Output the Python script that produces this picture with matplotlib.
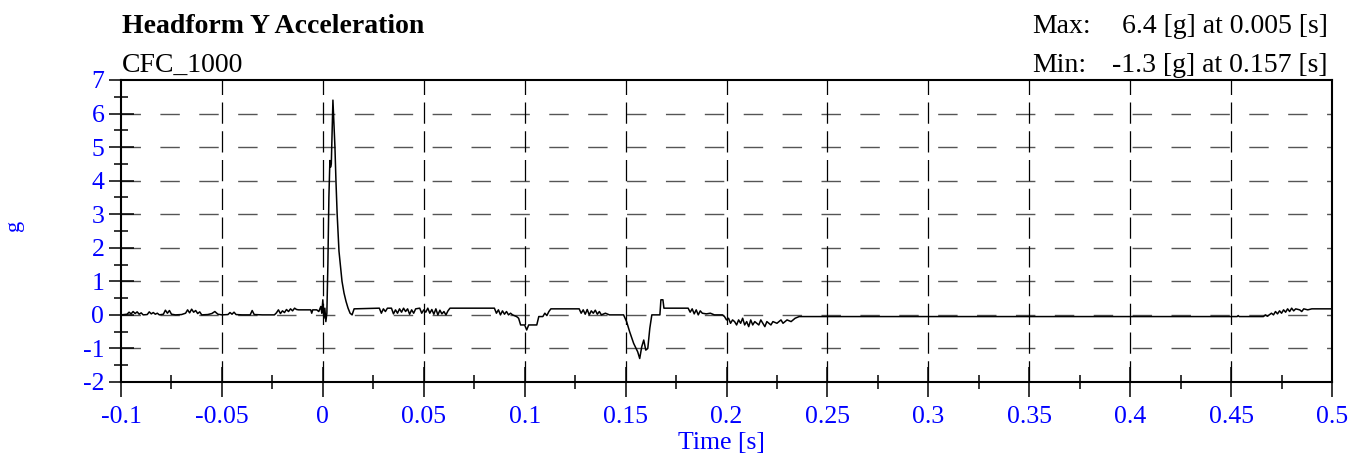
import matplotlib
matplotlib.use("Agg")
import matplotlib.pyplot as plt
from matplotlib.ticker import MultipleLocator, FixedLocator

plt.rcParams["axes.unicode_minus"] = False

# signal (time in s, acceleration in g)
time_s = [
    -0.100, -0.097, -0.096, -0.095, -0.094, -0.093, -0.092, -0.091, -0.090, -0.089,
    -0.087, -0.086, -0.085, -0.084, -0.083, -0.082, -0.081, -0.079, -0.078, -0.077,
    -0.076, -0.075, -0.073, -0.070, -0.068, -0.067, -0.066, -0.065, -0.064, -0.063,
    -0.062, -0.061, -0.060, -0.057, -0.055, -0.0535, -0.052, -0.050, -0.047, -0.046,
    -0.045, -0.044, -0.043, -0.040, -0.036, -0.035, -0.034, -0.030, -0.024, -0.023,
    -0.022, -0.021, -0.020, -0.019, -0.018, -0.017, -0.016, -0.015, -0.014, -0.013,
    -0.012, -0.006, -0.0055, -0.005, -0.003, -0.002, -0.001, -0.0005, 0.000, 0.0005,
    0.001, 0.0015, 0.002, 0.0025, 0.003, 0.0035, 0.0038, 0.0042, 0.0050, 0.0060,
    0.0065, 0.0071, 0.0080, 0.0095, 0.0105, 0.0115, 0.0125, 0.0135, 0.0145, 0.0155,
    0.028, 0.029, 0.030, 0.031, 0.032, 0.034, 0.035, 0.036, 0.037, 0.038,
    0.039, 0.040, 0.041, 0.042, 0.043, 0.044, 0.045, 0.046, 0.048, 0.049,
    0.050, 0.051, 0.052, 0.053, 0.054, 0.055, 0.056, 0.057, 0.058, 0.059,
    0.060, 0.061, 0.062, 0.063, 0.068, 0.085, 0.086, 0.087, 0.088, 0.089,
    0.090, 0.091, 0.092, 0.093, 0.094, 0.096, 0.097, 0.098, 0.100, 0.101,
    0.102, 0.106, 0.107, 0.109, 0.110, 0.111, 0.112, 0.113, 0.127, 0.128,
    0.129, 0.130, 0.131, 0.132, 0.133, 0.134, 0.135, 0.136, 0.137, 0.138,
    0.140, 0.142, 0.146, 0.149, 0.1505, 0.152, 0.154, 0.156, 0.157, 0.158,
    0.159, 0.160, 0.161, 0.162, 0.163, 0.167, 0.1675, 0.1685, 0.169, 0.181,
    0.182, 0.183, 0.184, 0.185, 0.186, 0.187, 0.188, 0.190, 0.192, 0.194,
    0.198, 0.199, 0.200, 0.201, 0.202, 0.203, 0.204, 0.205, 0.206, 0.207,
    0.208, 0.209, 0.210, 0.211, 0.212, 0.213, 0.214, 0.216, 0.217, 0.218,
    0.219, 0.220, 0.222, 0.223, 0.225, 0.227, 0.228, 0.230, 0.232, 0.234,
    0.236, 0.453, 0.4535, 0.454, 0.466, 0.467, 0.468, 0.470, 0.471, 0.472,
    0.473, 0.474, 0.475, 0.476, 0.477, 0.478, 0.479, 0.480, 0.481, 0.482,
    0.484, 0.485, 0.486, 0.488, 0.490, 0.500,
]
accel_g = [
    0.00, 0.02, 0.08, 0.03, 0.10, 0.04, 0.09, 0.02, 0.06, 0.00,
    0.01, 0.09, 0.03, 0.07, 0.02, 0.05, 0.00, 0.02, 0.14, 0.05,
    0.13, 0.02, 0.00, 0.01, 0.05, 0.15, 0.06, 0.17, 0.08, 0.13,
    0.04, 0.09, 0.00, 0.01, 0.04, 0.10, 0.02, 0.00, 0.01, 0.07,
    0.02, 0.08, 0.01, 0.00, 0.00, 0.13, 0.01, 0.00, 0.00, 0.06,
    0.15, 0.04, 0.12, 0.07, 0.16, 0.10, 0.18, 0.12, 0.20, 0.16,
    0.15, 0.15, 0.05, 0.15, 0.15, 0.10, 0.25, 0.05, 0.45, -0.10,
    0.20, -0.20, 0.05, 1.50, 3.50, 4.60, 4.40, 4.50, 6.40, 5.00,
    4.00, 3.00, 1.90, 1.00, 0.65, 0.40, 0.20, 0.05, 0.00, 0.18,
    0.20, 0.05, 0.18, 0.10, 0.20, 0.20, 0.03, 0.15, 0.05, 0.18,
    0.08, 0.20, 0.10, 0.18, 0.02, 0.15, 0.05, 0.18, 0.20, 0.05,
    0.15, 0.08, 0.20, 0.05, 0.16, 0.02, 0.18, 0.00, 0.14, 0.03,
    0.10, 0.00, 0.12, 0.20, 0.20, 0.20, 0.05, 0.15, 0.00, 0.12,
    0.02, 0.10, 0.00, 0.05, 0.00, -0.05, -0.10, -0.30, -0.30, -0.45,
    -0.30, -0.30, -0.05, -0.05, 0.05, -0.02, 0.10, 0.18, 0.18, 0.05,
    0.15, 0.02, 0.16, 0.00, 0.12, 0.05, 0.14, 0.02, 0.10, 0.00,
    0.05, 0.00, 0.00, 0.00, -0.20, -0.50, -0.85, -1.10, -1.30, -0.95,
    -0.75, -1.05, -1.00, -0.40, 0.00, 0.00, 0.45, 0.45, 0.20, 0.20,
    0.08, 0.18, 0.03, 0.15, 0.00, 0.12, 0.05, 0.03, 0.05, 0.00,
    0.00, -0.05, -0.15, -0.10, -0.25, -0.15, -0.20, -0.30, -0.15, -0.25,
    -0.10, -0.30, -0.20, -0.35, -0.15, -0.30, -0.20, -0.30, -0.15, -0.25,
    -0.35, -0.20, -0.30, -0.20, -0.25, -0.15, -0.25, -0.15, -0.20, -0.10,
    -0.05, -0.05, -0.02, -0.05, -0.05, 0.00, -0.04, 0.05, 0.00, 0.10,
    0.03, 0.12, 0.05, 0.15, 0.08, 0.18, 0.10, 0.20, 0.12, 0.18,
    0.15, 0.10, 0.18, 0.15, 0.18, 0.18,
]

x_ticks = [-0.1, -0.05, 0, 0.05, 0.1, 0.15, 0.2, 0.25, 0.3, 0.35, 0.4, 0.45, 0.5]
x_labels = ["-0.1", "-0.05", "0", "0.05", "0.1", "0.15", "0.2", "0.25",
            "0.3", "0.35", "0.4", "0.45", "0.5"]
y_ticks = [-2, -1, 0, 1, 2, 3, 4, 5, 6, 7]

serif = "Liberation Serif"
blue = "#0000ff"
fs_tick = 18.5
fs_text = 20

fig = plt.figure(figsize=(13.61, 4.54), dpi=100)
ax = fig.add_axes([0.0889, 0.1586, 0.8898, 0.6652])

# dashed grid
for yv in y_ticks[1:-1]:
    ax.axhline(yv, color="#555555", lw=1.0, ls=(0, (14, 14)), zorder=1)
for xv in x_ticks[1:-1]:
    ax.axvline(xv, color="black", lw=0.9, ls=(0, (17, 6)), zorder=1)

ax.plot(time_s, accel_g, color="black", lw=1.1, zorder=3)

ax.set_xlim(-0.1, 0.5)
ax.set_ylim(-2, 7)
ax.xaxis.set_major_locator(FixedLocator(x_ticks))
ax.set_xticklabels(x_labels)
ax.xaxis.set_minor_locator(MultipleLocator(0.025))
ax.set_yticks(y_ticks)
ax.yaxis.set_minor_locator(MultipleLocator(0.5))

for s in ax.spines.values():
    s.set_linewidth(1.5)

ax.tick_params(axis="x", which="major", direction="inout", length=21, width=1.1,
               pad=7, labelsize=fs_tick, labelcolor=blue)
ax.tick_params(axis="x", which="minor", direction="inout", length=9.5, width=1.1)
ax.tick_params(axis="y", which="major", direction="inout", length=18, width=1.1,
               pad=3, labelsize=fs_tick, labelcolor=blue)
ax.tick_params(axis="y", which="minor", direction="inout", length=9.5, width=1.1)
for lab in ax.get_xticklabels() + ax.get_yticklabels():
    lab.set_fontfamily(serif)

fig.text(0.530, 0.012, "Time [s]", fontsize=fs_tick, color=blue, family=serif,
         ha="center", va="baseline")
fig.text(0.011, 0.504, "g", rotation=90, fontsize=16, color=blue, family=serif,
         ha="center", va="center")

fig.text(0.0896, 0.927, "Headform Y Acceleration", fontsize=fs_text, fontweight="bold",
         family=serif, ha="left", va="baseline")
fig.text(0.0896, 0.841, "CFC_1000", fontsize=fs_text, family=serif, ha="left",
         va="baseline")
fig.text(0.7583, 0.927, "Max:", fontsize=fs_text, family=serif, ha="left", va="baseline")
fig.text(0.9757, 0.927, "6.4 [g] at 0.005 [s]", fontsize=fs_text, family=serif,
         ha="right", va="baseline")
fig.text(0.7583, 0.841, "Min:", fontsize=fs_text, family=serif, ha="left", va="baseline")
fig.text(0.9757, 0.841, "-1.3 [g] at 0.157 [s]", fontsize=fs_text, family=serif,
         ha="right", va="baseline")

fig.savefig("out.png", dpi=100)
